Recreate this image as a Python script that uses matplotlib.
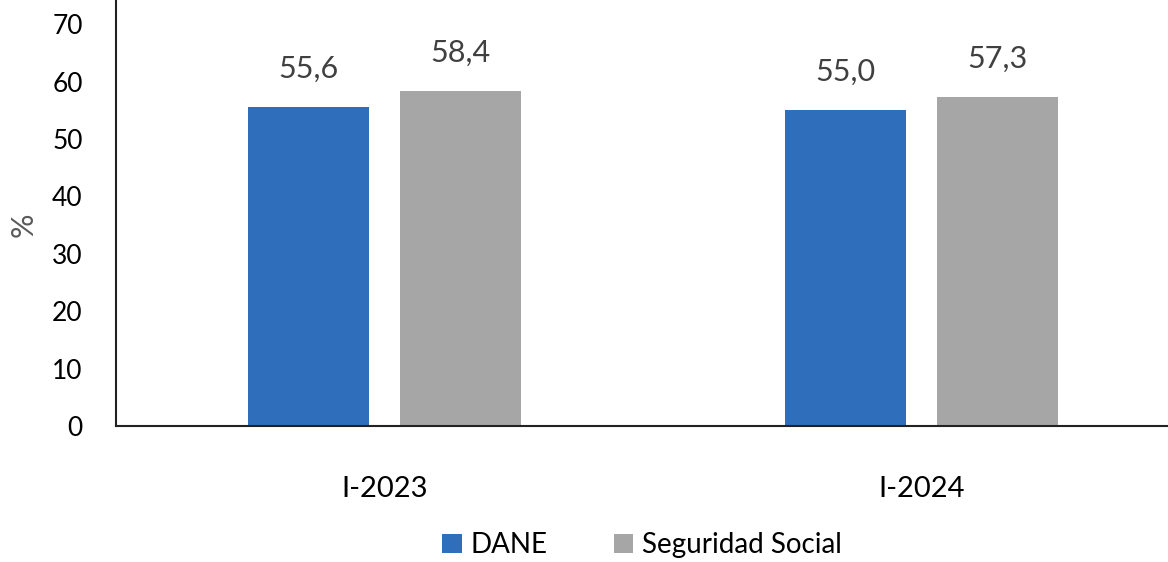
import matplotlib
matplotlib.use("Agg")
import matplotlib.pyplot as plt
import numpy as np

categories = ["I-2023", "I-2024"]
series_names = ["DANE", "Seguridad Social"]
dane = [55.6, 55.0]
seguridad = [58.4, 57.3]
yticks = [0, 10, 20, 30, 40, 50, 60, 70]

plt.rcParams['font.family'] = ['Lato', 'DejaVu Sans']

fig = plt.figure(figsize=(11.68, 5.62), dpi=100)
ax = fig.add_axes([116/1168, 136/562, 1074/1168, 426/562])

x = np.arange(len(categories))
w = 0.225
off = 0.142
b1 = ax.bar(x - off, dane, w, color="#2F6EBA", label=series_names[0])
b2 = ax.bar(x + off, seguridad, w, color="#A6A6A6", label=series_names[1])

for bars, vals in ((b1, dane), (b2, seguridad)):
    for r, v in zip(bars, vals):
        ax.text(r.get_x() + r.get_width()/2, v + 4.2, f"{v:.1f}".replace(".", ","),
                ha="center", va="bottom", fontsize=22, color="#404040")

ax.set_xlim(-0.5, 1.5)
ax.set_ylim(0, 74.2)
ax.set_yticks(yticks)
ax.set_yticklabels([str(t) for t in yticks], fontsize=19)
ax.set_xticks(x)
ax.set_xticklabels(categories, fontsize=21)
ax.tick_params(axis="y", length=0, pad=24)
ax.tick_params(axis="x", length=0, pad=36)
ax.set_ylabel("%", fontsize=22, color="#595959")
ax.yaxis.set_label_coords((38 - 116) / 1074, (426 - 225) / 426)
for s in ("top", "right"):
    ax.spines[s].set_visible(False)
for s in ("left", "bottom"):
    ax.spines[s].set_linewidth(1.5)
    ax.spines[s].set_color("#222222")

fig.legend(handles=[b1, b2], loc="center", bbox_to_anchor=(642/1168, 1 - 545/562),
           ncol=2, frameon=False, fontsize=20, handlelength=0.7, handleheight=0.7,
           columnspacing=2.4, handletextpad=0.3)

fig.savefig("out.png", dpi=100)
